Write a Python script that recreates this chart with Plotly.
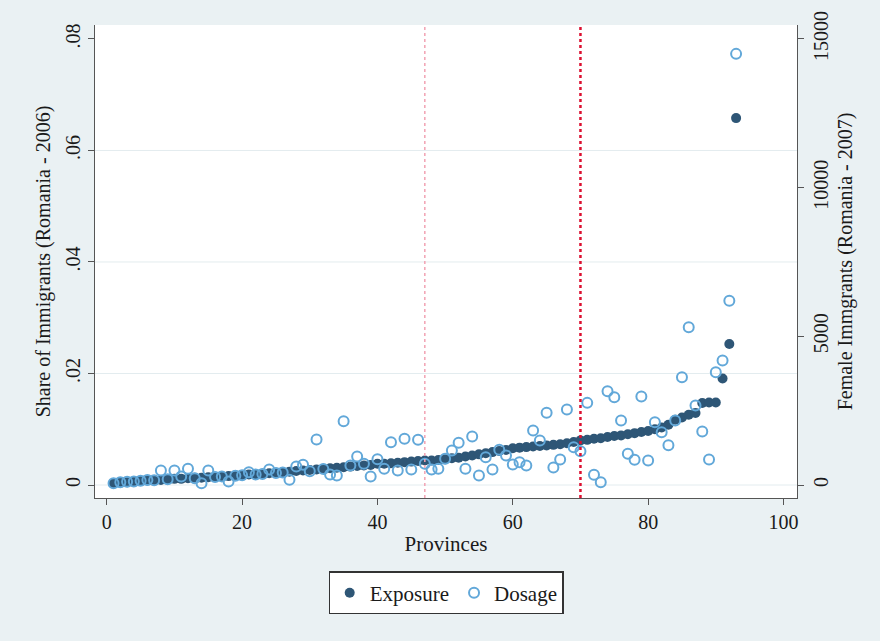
import plotly.graph_objects as go

# Province rank (sorted by exposure)
provinces = list(range(1, 94))

# Share of immigrants (Romania - 2006), left axis
exposure = [
    0.0003, 0.0004, 0.0005, 0.0006, 0.0007, 0.0008, 0.0008, 0.0009, 0.0010, 0.0011,
    0.0011, 0.0012, 0.0013, 0.0013, 0.0014, 0.0015, 0.0015, 0.0016, 0.0017, 0.0018,
    0.0019, 0.0019, 0.0020, 0.0021, 0.0022, 0.0023, 0.0024, 0.0025, 0.0026, 0.0027,
    0.0028, 0.0029, 0.0030, 0.0031, 0.0032, 0.0033, 0.0034, 0.0035, 0.0036, 0.0038,
    0.0038, 0.0039, 0.0040, 0.0041, 0.0042, 0.0043, 0.0044, 0.0044, 0.0045, 0.0046,
    0.0048, 0.0049, 0.0051, 0.0053, 0.0055, 0.0057, 0.0059, 0.0061, 0.0063, 0.0066,
    0.0067, 0.0068, 0.0069, 0.0070, 0.0071, 0.0072, 0.0073, 0.0075, 0.0077, 0.0080,
    0.0081, 0.0083, 0.0084, 0.0086, 0.0088, 0.0089, 0.0091, 0.0093, 0.0095, 0.0097,
    0.0100, 0.0103, 0.0108, 0.0117, 0.0121, 0.0126, 0.0129, 0.0147, 0.0148, 0.0148,
    0.0191, 0.0253, 0.0658,
]

# Female immigrants (Romania - 2007), right axis
dosage = [
    60, 90, 110, 120, 140, 170, 160, 487, 190, 487,
    285, 544, 230, 60, 487, 270, 290, 118, 310, 330,
    430, 350, 370, 521, 400, 420, 175, 622, 679, 464,
    1529, 540, 353, 319, 2144, 655, 958, 712, 286, 867,
    544, 1438, 487, 1552, 521, 1519, 712, 521, 544, 880,
    1159, 1418, 544, 1630, 319, 934, 521, 1183, 991, 689,
    766, 655, 1831, 1495, 2430, 590, 860, 2537, 1270, 1136,
    2762, 343, 94, 3152, 2950, 2167, 1048, 847, 2974, 823,
    2110, 1774, 1340, 2167, 3622, 5302, 2671, 1798, 857, 3790,
    4183, 6199, 14498,
]

left_ticks = [0, 0.02, 0.04, 0.06, 0.08]
left_ticktext = ["0", ".02", ".04", ".06", ".08"]
right_ticks = [0, 5000, 10000, 15000]
right_ticktext = ["0", "5000", "10000", "15000"]
x_ticks = [0, 20, 40, 60, 80, 100]
grid_vals = [0, 0.02, 0.04, 0.06]
ref_lines = [47, 70]

FONT = "Liberation Serif"
NAVY = "#2e5676"
LBLUE = "#62a8d9"
BG = "#eaf1f3"

left_range = [-0.00233, 0.0825]
scale = 15000 / 0.08
right_range = [left_range[0] * scale, left_range[1] * scale]

fig = go.Figure()
fig.add_trace(go.Scatter(
    x=provinces, y=exposure, mode="markers", name="Exposure",
    marker=dict(symbol="circle", size=10, color=NAVY, line=dict(width=0)),
))
fig.add_trace(go.Scatter(
    x=provinces, y=dosage, mode="markers", name="Dosage", yaxis="y2",
    marker=dict(symbol="circle-open", size=10, color=LBLUE, line=dict(width=2, color=LBLUE)),
))

for g in grid_vals:
    fig.add_shape(type="line", xref="paper", x0=0, x1=1, yref="y", y0=g, y1=g,
                  line=dict(color="#e3ecef", width=1), layer="below")

fig.add_shape(type="line", xref="x", x0=ref_lines[0], x1=ref_lines[0], yref="paper", y0=0, y1=1,
              line=dict(color="#f2a3b3", width=1.5, dash="dot"))
fig.add_shape(type="line", xref="x", x0=ref_lines[1], x1=ref_lines[1], yref="paper", y0=0, y1=1,
              line=dict(color="#dc1030", width=2.5, dash="dot"))

fig.update_layout(
    width=880, height=641,
    margin=dict(l=95, r=83, t=25, b=143),
    paper_bgcolor=BG, plot_bgcolor="white",
    font=dict(family=FONT, size=19, color="#1a1a1a"),
    showlegend=True,
    legend=dict(orientation="h", x=0.5, xanchor="center", y=-0.155, yanchor="top",
                bgcolor="white", bordercolor="#333", borderwidth=1.2,
                font=dict(family=FONT, size=21, color="#1a1a1a"),
                itemsizing="trace"),
    xaxis=dict(range=[-1.74, 102.0], tickvals=x_ticks, showgrid=False, zeroline=False,
               showline=True, linecolor="#555", linewidth=1, ticks="outside", ticklen=6,
               tickcolor="#555", tickfont=dict(size=20),
               title=dict(text="Provinces", font=dict(size=21), standoff=4)),
    yaxis=dict(range=left_range, tickvals=left_ticks, ticktext=left_ticktext, tickangle=-90,
               showgrid=False, zeroline=False, showline=True, linecolor="#555", linewidth=1,
               ticks="outside", ticklen=6, tickcolor="#555", tickfont=dict(size=20),
               title=dict(text="Share of Immigrants (Romania - 2006)", font=dict(size=20), standoff=6)),
    yaxis2=dict(range=right_range, tickvals=right_ticks, ticktext=right_ticktext, tickangle=-90,
                overlaying="y", side="right",
                showgrid=False, zeroline=False, showline=True, linecolor="#555", linewidth=1,
                ticks="outside", ticklen=6, tickcolor="#555", tickfont=dict(size=20),
                title=dict(text="Female Immgrants (Romania - 2007)", font=dict(size=20), standoff=6)),
)

fig.write_html("out.html")
